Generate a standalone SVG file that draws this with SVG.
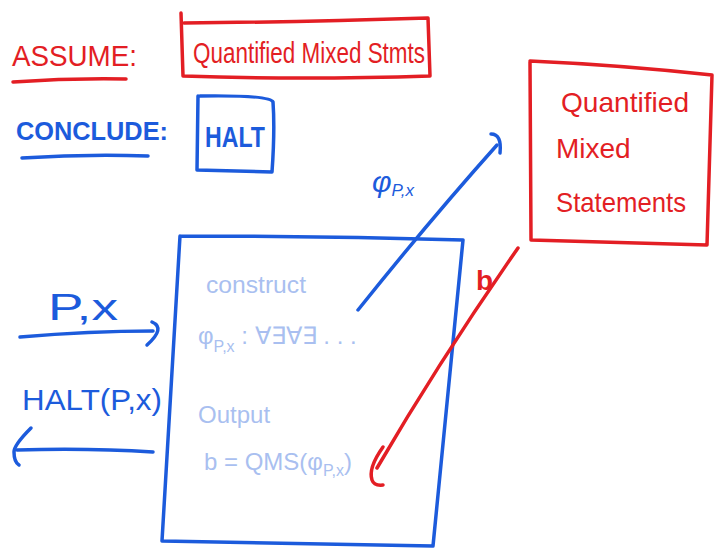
<svg xmlns="http://www.w3.org/2000/svg" width="714" height="552" viewBox="0 0 714 552">
<style>
.r{stroke:#e31e24;fill:none;stroke-width:3.5;stroke-linecap:round;stroke-linejoin:round}
.b{stroke:#1c5bdc;fill:none;stroke-width:3.5;stroke-linecap:round;stroke-linejoin:round}
.tr{fill:#e31e24;font-family:"Liberation Sans",sans-serif}
.tb{fill:#1c5bdc;font-family:"Liberation Sans",sans-serif}
.tl{fill:#a9bff0;font-family:"Liberation Sans",sans-serif;font-size:24px}
</style>
<rect width="714" height="552" fill="#fff"/>
<g id="assume">
<text class="tr" x="12" y="66" font-size="29" textLength="125" lengthAdjust="spacingAndGlyphs">ASSUME:</text>
<path class="r" d="M13 82 Q70 78 126 79"/>
</g>
<g id="assume-box">
<path class="r" d="M181 13 L183 76 Q300 80 430 76 L428 18 Q300 22 184 23"/>
<text class="tr" x="193" y="63" font-size="30" textLength="232" lengthAdjust="spacingAndGlyphs">Quantified Mixed Stmts</text>
</g>
<g id="conclude">
<text class="tb" x="16" y="140" font-size="26" font-weight="bold" textLength="152" lengthAdjust="spacingAndGlyphs">CONCLUDE:</text>
<path class="b" d="M22 158 Q85 154 148 156"/>
</g>
<g id="halt-box">
<path class="b" d="M198 96 L197 170 L272 172 Q275 130 273 102 Q270 95 200 96"/>
<text class="tb" x="205" y="147" font-size="30" font-weight="bold" textLength="60" lengthAdjust="spacingAndGlyphs">HALT</text>
</g>
<g id="qms-box">
<path class="r" d="M530 62 L531 240 L707 245 L712 75 Q620 65 530 61"/>
<text class="tr" x="561" y="112" font-size="28" textLength="128" lengthAdjust="spacingAndGlyphs">Quantified</text>
<text class="tr" x="556" y="158" font-size="28">Mixed</text>
<text class="tr" x="556" y="212" font-size="28" textLength="130" lengthAdjust="spacingAndGlyphs">Statements</text>
</g>
<g id="machine">
<path class="b" d="M180 236 L162 541 L433 546 L463 240 Q320 236 180 236"/>
<text class="tl" x="206" y="293" textLength="100" lengthAdjust="spacingAndGlyphs">construct</text>
<text class="tl" x="198" y="344">φ<tspan font-size="16" dy="8">P,x</tspan><tspan dy="-8"> : ∀∃∀∃ . . .</tspan></text>
<text class="tl" x="198" y="423">Output</text>
<text class="tl" x="204" y="470">b = QMS(φ<tspan font-size="16" dy="6">P,x</tspan><tspan dy="-6">)</tspan></text>
</g>
<g id="connectors">
<path class="b" d="M358 310 Q430 220 497 145"/>
<path class="b" d="M491 134 Q502 134 500 153"/>
<path class="r" d="M518 248 Q440 360 377 468"/>
<path class="r" d="M383 447 Q368 468 372 480 Q374 486 383 485"/>
<path class="b" d="M20 337 Q90 331 153 331"/>
<path class="b" d="M152 322 Q166 328 147 345"/>
<path class="b" d="M153 452 Q90 448 17 450"/>
<path class="b" d="M31 428 Q14 445 14 452 Q14 462 19 465"/>
</g>
<g id="labels">
<text class="tb" x="372" y="192" font-size="30" font-style="italic">φ<tspan font-size="17" dy="4">P,x</tspan></text>
<text class="tr" x="476" y="290" font-size="28" font-weight="bold">b</text>
<text class="tb" x="48" y="320" font-size="36" textLength="70" lengthAdjust="spacingAndGlyphs">P,x</text>
<text class="tb" x="22" y="410" font-size="30" textLength="140" lengthAdjust="spacingAndGlyphs">HALT(P,x)</text>
</g>
</svg>
